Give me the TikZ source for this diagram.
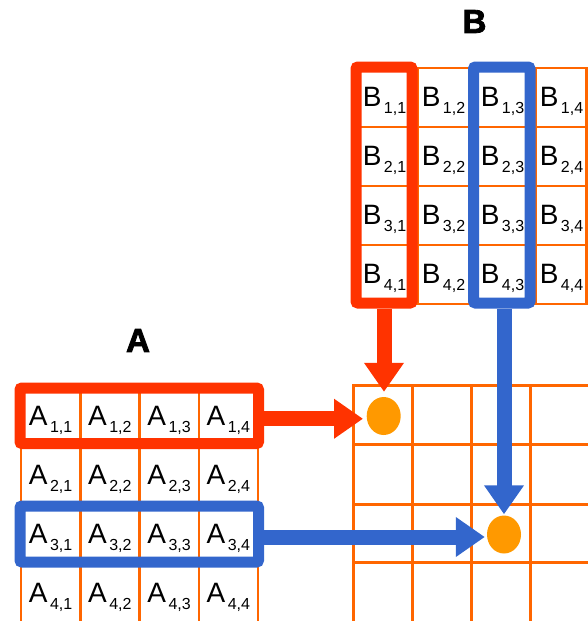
\documentclass[tikz,border=0pt]{standalone}
\usepackage{fontspec}
\setmainfont{Liberation Sans}
\newfontfamily\heavy[FakeBold=2.5]{Liberation Sans}
\usetikzlibrary{arrows.meta,calc,shapes.geometric}
\definecolor{gridor}{HTML}{FF6600}
\definecolor{boxred}{HTML}{FF3300}
\definecolor{boxblue}{HTML}{3366CC}
\definecolor{dotor}{HTML}{FF9900}
\newcommand\mcell[2]{{\fontsize{28}{28}\selectfont #1}\kern2.5pt\raisebox{-7pt}{\fontsize{16}{16}\selectfont #2}}
\begin{document}
\begin{tikzpicture}[x=1pt,y=-1pt,
  gridline/.style={draw=gridor,line width=2.5pt,line cap=rect},
  cgrid/.style={draw=gridor,line width=3pt,line cap=rect},
  cell/.style={anchor=base,inner sep=0pt,outer sep=0pt},
  selbox/.style={rectangle,line width=11pt,rounded corners=2pt,inner sep=0pt},
  redbox/.style={selbox,draw=boxred},
  bluebox/.style={selbox,draw=boxblue},
  bigarrow/.style={line width=15pt,-{Triangle[width=38pt,length=29pt]}},
  dot/.style={ellipse,fill=dotor,minimum width=34pt,minimum height=38pt,inner sep=0pt},
  title/.style={font=\heavy\bfseries\fontsize{33}{33}\selectfont,inner sep=0pt}
]
\useasboundingbox (0,0) rectangle (588,621);
\clip (0,0) rectangle (588,621);
% grid of A
\foreach \x in {21,80.25,139.5,198.75,258} \draw[gridline] (\x,388) -- (\x,640);
\foreach \y in {388,447,506,565} \draw[gridline] (21,\y) -- (258,\y);
% grid of B
\foreach \x in {359,418,477,536,586.5} \draw[gridline] (\x,68) -- (\x,304);
\foreach \y in {68,127,186,245,304} \draw[gridline] (359,\y) -- (586.5,\y);
% grid of C
\foreach \x in {353,412,471.5,530.5} \draw[cgrid] (\x,385) -- (\x,640);
\foreach \y in {385,444.5,504,562.5} \draw[cgrid] (353,\y) -- (620,\y);
% cell texts
\foreach \r in {1,...,4}{
  \foreach \c in {1,...,4}{
    \node[cell] (a\r\c) at ({21+59.25*(\c-1)+29.6},{388+59*(\r-1)+37}) {\mcell{A}{\r,\c}};
    \node[cell] (b\r\c) at ({359+59*(\c-1)+25.5},{68+59*(\r-1)+38}) {\mcell{B}{\r,\c}};
  }
}
% titles
\node[title] (titA) at (138,340.5) {A};
\node[title] (titB) at (474.5,21.5) {B};
% selection boxes
\node[redbox,minimum width=56pt,minimum height=236pt] (colB1) at (384,185) {};
\node[bluebox,minimum width=56.5pt,minimum height=236pt] (colB3) at (501.75,185) {};
\node[redbox,minimum width=238.5pt,minimum height=55.5pt] (rowA1) at (139.25,415.75) {};
\node[bluebox,minimum width=238.5pt,minimum height=56pt] (rowA3) at (139.25,534) {};
% result dots
\node[dot] (c11) at (383.7,416) {};
\node[dot] (c33) at (504,534.5) {};
% arrows
\draw[bigarrow,color=boxred] (colB1.south) -- ($(colB1.south |- c11.north)+(0,-5)$);
\draw[bigarrow,color=boxred] ($(rowA1.east)+(0,3)$) -- ($(c11.west |- rowA1.east)+(-3.5,3)$);
\draw[bigarrow,color=boxblue] (c33.north |- colB3.south) -- ($(c33.north)+(0,-1)$);
\draw[bigarrow,color=boxblue] ($(rowA3.east)+(0,3)$) -- ($(c33.west |- rowA3.east)+(-2,3)$);
\end{tikzpicture}
\end{document}
